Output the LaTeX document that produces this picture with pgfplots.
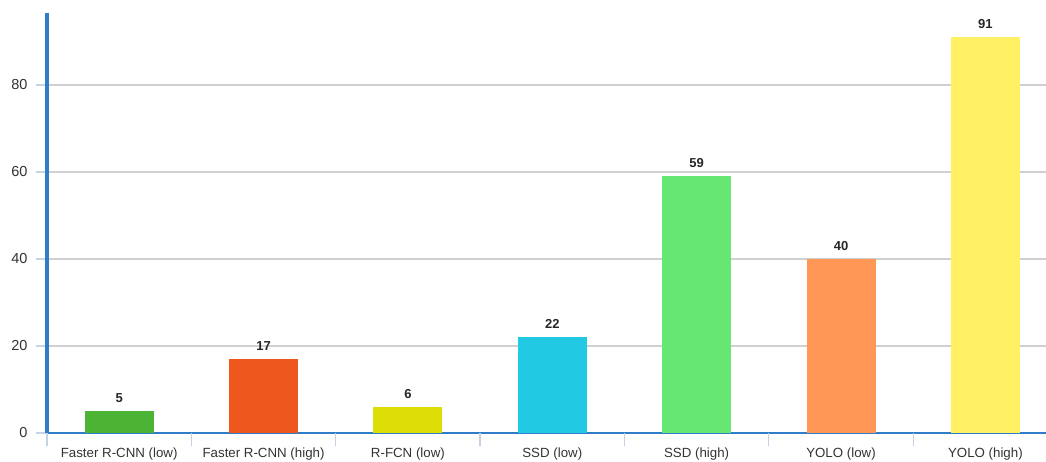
\documentclass[border=0pt]{standalone}
\usepackage{fontspec}
\setmainfont{Liberation Sans}
\usepackage{pgfplots}
\pgfplotsset{compat=1.18}

\definecolor{axisblue}{HTML}{2F7DC8}
\definecolor{gridgray}{HTML}{D0D0D0}
\definecolor{ticklight}{HTML}{C5D3E2}
\definecolor{cA}{HTML}{4DB335}
\definecolor{cB}{HTML}{EE581E}
\definecolor{cC}{HTML}{DDDD08}
\definecolor{cD}{HTML}{22C9E3}
\definecolor{cE}{HTML}{66E672}
\definecolor{cF}{HTML}{FF9757}
\definecolor{cG}{HTML}{FFF064}

\begin{document}
\begin{tikzpicture}[x=1pt,y=1pt]
\begin{axis}[
  at={(0,0)}, anchor=south west,
  scale only axis,
  width=999pt, height=420pt,
  xmin=-0.5, xmax=6.42,
  ymin=0, ymax=96.55,
  /pgf/number format/assume math mode=true,
  axis x line*=bottom,
  axis y line*=left,
  x axis line style={axisblue, line width=1.6pt, -},
  y axis line style={draw=none},
  ytick={0,20,40,60,80},
  ymajorgrids,
  major grid style={gridgray, line width=1.2pt},
  ytick style={ticklight, line width=1.2pt},
  ytick align=outside,
  major tick length=11pt,
  yticklabel style={font=\fontsize{14.5}{16}\selectfont, color=black!80, xshift=-5pt},
  xtick={0,1,2,3,4,5,6},
  xticklabels={Faster R-CNN (low), Faster R-CNN (high), R-FCN (low), SSD (low), SSD (high), YOLO (low), YOLO (high)},
  xticklabel style={font=\fontsize{13.3}{15}\selectfont, color=black!80},
  xtick style={draw=none},
  extra x ticks={-0.5,0.5,1.5,2.5,3.5,4.5,5.5},
  extra x tick labels={},
  extra x tick style={
    xtick style={draw=ticklight, line width=1.2pt},
    tick align=outside,
    major tick length=13pt,
    grid=none,
  },
  ybar,
  bar width=69pt,
  bar shift=0pt,
  nodes near coords,
  nodes near coords style={font=\fontsize{13}{15}\selectfont\bfseries, color=black!85, anchor=south, yshift=5pt},
  clip=false,
]
\addplot[fill=cA, draw=none] coordinates {(0,5)};
\addplot[fill=cB, draw=none] coordinates {(1,17)};
\addplot[fill=cC, draw=none] coordinates {(2,6)};
\addplot[fill=cD, draw=none] coordinates {(3,22)};
\addplot[fill=cE, draw=none] coordinates {(4,59)};
\addplot[fill=cF, draw=none] coordinates {(5,40)};
\addplot[fill=cG, draw=none] coordinates {(6,91)};
% left axis line, drawn heavier than the baseline
\draw[axisblue, line width=3.3pt] (rel axis cs:0,0) -- (rel axis cs:0,1);
\end{axis}
\pgfresetboundingbox
\path (-47pt,-28pt) rectangle (999pt,433pt);
\end{tikzpicture}
\end{document}
